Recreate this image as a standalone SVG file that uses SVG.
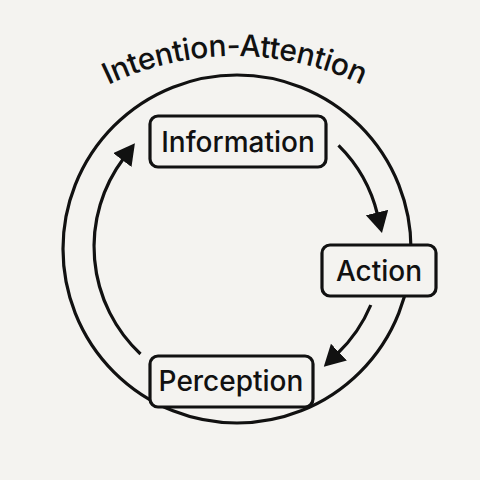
<svg xmlns="http://www.w3.org/2000/svg" width="480" height="480" viewBox="0 0 480 480">
  <style>
    .bg { fill: #f4f3f0; }
    .ring { fill: none; stroke: #111; stroke-width: 3.2; }
    .box { fill: #f4f3f0; stroke: #111; stroke-width: 3.2; }
    .lbl { font-family: Inter, "Liberation Sans", sans-serif; font-size: 28px; font-weight: 500; fill: #111; text-anchor: middle; }
    .title { font-family: Inter, "Liberation Sans", sans-serif; font-size: 30px; font-weight: 500; fill: #111; }
    .arrow { fill: none; stroke: #111; stroke-width: 3.2; marker-end: url(#head); }
  </style>
  <defs>
    <marker id="head" markerUnits="userSpaceOnUse" markerWidth="24" markerHeight="24" refX="2" refY="11.5" orient="auto">
      <path d="M0,0 L21,11.5 L0,23 z" fill="#111"/>
    </marker>
    <path id="titleArc" d="M46.7,124.6 A293,293 0 0 1 423.3,124.6"/>
  </defs>
  <rect class="bg" x="0" y="0" width="480" height="480"/>

  <g id="cycle">
    <circle class="ring" cx="237" cy="249" r="174"/>
    <text class="title"><textPath href="#titleArc" startOffset="50%" text-anchor="middle" textLength="262" lengthAdjust="spacing">Intention-Attention</textPath></text>
  </g>

  <g id="connectors">
    <path class="arrow" d="M338.5,145.4 A145,145 0 0 1 377.5,214.5"/>
    <path class="arrow" d="M370.8,305.0 A145,145 0 0 1 337.5,353.5"/>
    <path class="arrow" d="M140.5,354 A147,147 0 0 1 123.5,158.5"/>
  </g>

  <g id="information">
    <rect class="box" x="150" y="116" width="176" height="51" rx="8"/>
    <text class="lbl" x="238" y="152">Information</text>
  </g>

  <g id="action">
    <rect class="box" x="322" y="245" width="114" height="51" rx="8"/>
    <text class="lbl" x="379" y="281">Action</text>
  </g>

  <g id="perception">
    <rect class="box" x="150" y="356" width="163" height="51" rx="8"/>
    <text class="lbl" x="231" y="391">Perception</text>
  </g>
</svg>
